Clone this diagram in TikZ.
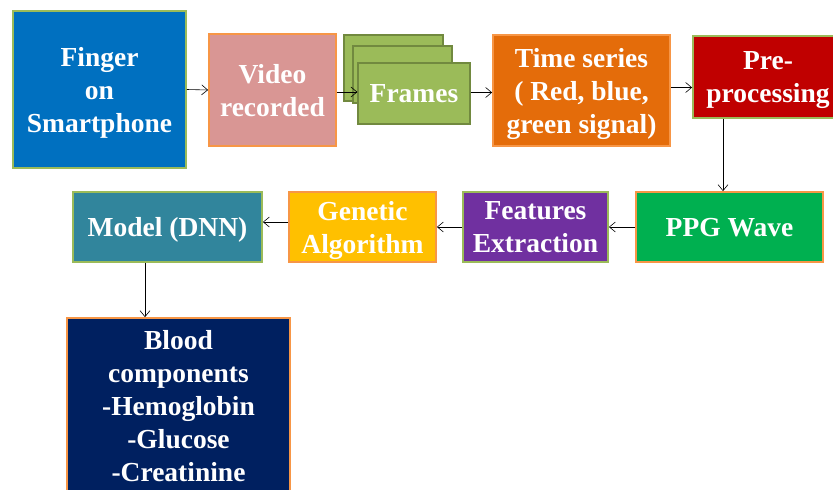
\documentclass[tikz,border=0pt]{standalone}
\usepackage{fontspec}
\setmainfont{Liberation Serif}
\usetikzlibrary{arrows.meta}

\definecolor{fingerblue}{HTML}{0070C0}
\definecolor{videopink}{HTML}{D99694}
\definecolor{framegreen}{HTML}{9BBB59}
\definecolor{framedark}{HTML}{71893F}
\definecolor{timeorange}{HTML}{E46C0A}
\definecolor{prered}{HTML}{C00000}
\definecolor{ppggreen}{HTML}{00B050}
\definecolor{featpurple}{HTML}{7030A0}
\definecolor{genyellow}{HTML}{FFC000}
\definecolor{modelteal}{HTML}{31859C}
\definecolor{bloodnavy}{HTML}{002060}
\definecolor{edgegreen}{HTML}{9BBB59}
\definecolor{edgeorange}{HTML}{F79646}

\tikzset{
  block/.style={draw, line width=1.8pt, inner sep=0pt, align=center,
    text depth=-2pt, text=white, font=\fontsize{27.5}{33}\selectfont\bfseries},
  arr/.style={-{Straight Barb[length=6pt,width=10pt]}, line width=0.6pt}
}

\begin{document}
\begin{tikzpicture}[x=1pt,y=-1pt]
\useasboundingbox (0,0) rectangle (833,490);

% Top row
\node [block, fill=fingerblue, draw=edgegreen, minimum width=173pt, minimum height=157pt] (finger) at (99.5,89.5) {Finger\\on\\Smartphone};
\node [block, fill=videopink, draw=edgeorange, minimum width=127pt, minimum height=112pt] (video) at (272.5,90) {Video\\recorded};

% Stack of frames
\node [block, fill=framegreen, draw=framedark, line width=1.2pt, minimum width=99pt, minimum height=66pt] (frameback) at (393.5,68) {};
\node [block, fill=framegreen, draw=framedark, line width=1.2pt, minimum width=99pt, minimum height=57pt] (framemid) at (402.5,74.5) {};
\node [block, fill=framegreen, draw=framedark, line width=1.2pt, minimum width=112pt, minimum height=61pt] (frames) at (414,93.5) {Frames};

\node [block, fill=timeorange, draw=edgeorange, minimum width=177pt, minimum height=111pt] (time) at (581.5,90.5) {Time series\\( Red, blue,\\green signal)};
\node [block, fill=prered, draw=edgegreen, minimum width=150pt, minimum height=82pt] (pre) at (768,77) {Pre-\\processing};

% Middle row
\node [block, fill=ppggreen, draw=edgeorange, minimum width=187pt, minimum height=70pt] (ppg) at (729.5,227) {PPG Wave};
\node [block, fill=featpurple, draw=edgegreen, minimum width=145pt, minimum height=70pt] (feat) at (535.5,227) {Features\\Extraction};
\node [block, fill=genyellow, draw=edgeorange, minimum width=147pt, minimum height=70pt] (gen) at (362.5,227) {Genetic\\Algorithm};
\node [block, fill=modelteal, draw=edgegreen, minimum width=189pt, minimum height=70pt] (model) at (167.5,227) {Model (DNN)};

% Result
\node [block, fill=bloodnavy, draw=edgeorange, minimum width=223pt, minimum height=176pt] (blood) at (178.5,406) {Blood\\components\\-Hemoglobin\\-Glucose\\-Creatinine};

% Connectors
\draw [arr] (finger.east) -- (video.west);
\draw [arr] ([yshift=-2pt]video.east) -- ([yshift=-2pt]video.east -| frames.west);
\draw [arr] ([yshift=1pt]frames.east) -- ([yshift=1pt]frames.east -| time.west);
\draw [arr] ([yshift=3pt]time.east) -- ([yshift=3pt]time.east -| pre.west);
\draw [arr] ([xshift=-45pt]pre.south) -- ([xshift=-45pt]pre.south |- ppg.north);
\draw [arr] (ppg.west) -- (feat.east);
\draw [arr] (feat.west) -- (gen.east);
\draw [arr] ([yshift=5pt]gen.west) -- ([yshift=5pt]gen.west -| model.east);
\draw [arr] ([xshift=-22.5pt]model.south) -- ([xshift=-22.5pt]model.south |- blood.north);
\end{tikzpicture}
\end{document}
